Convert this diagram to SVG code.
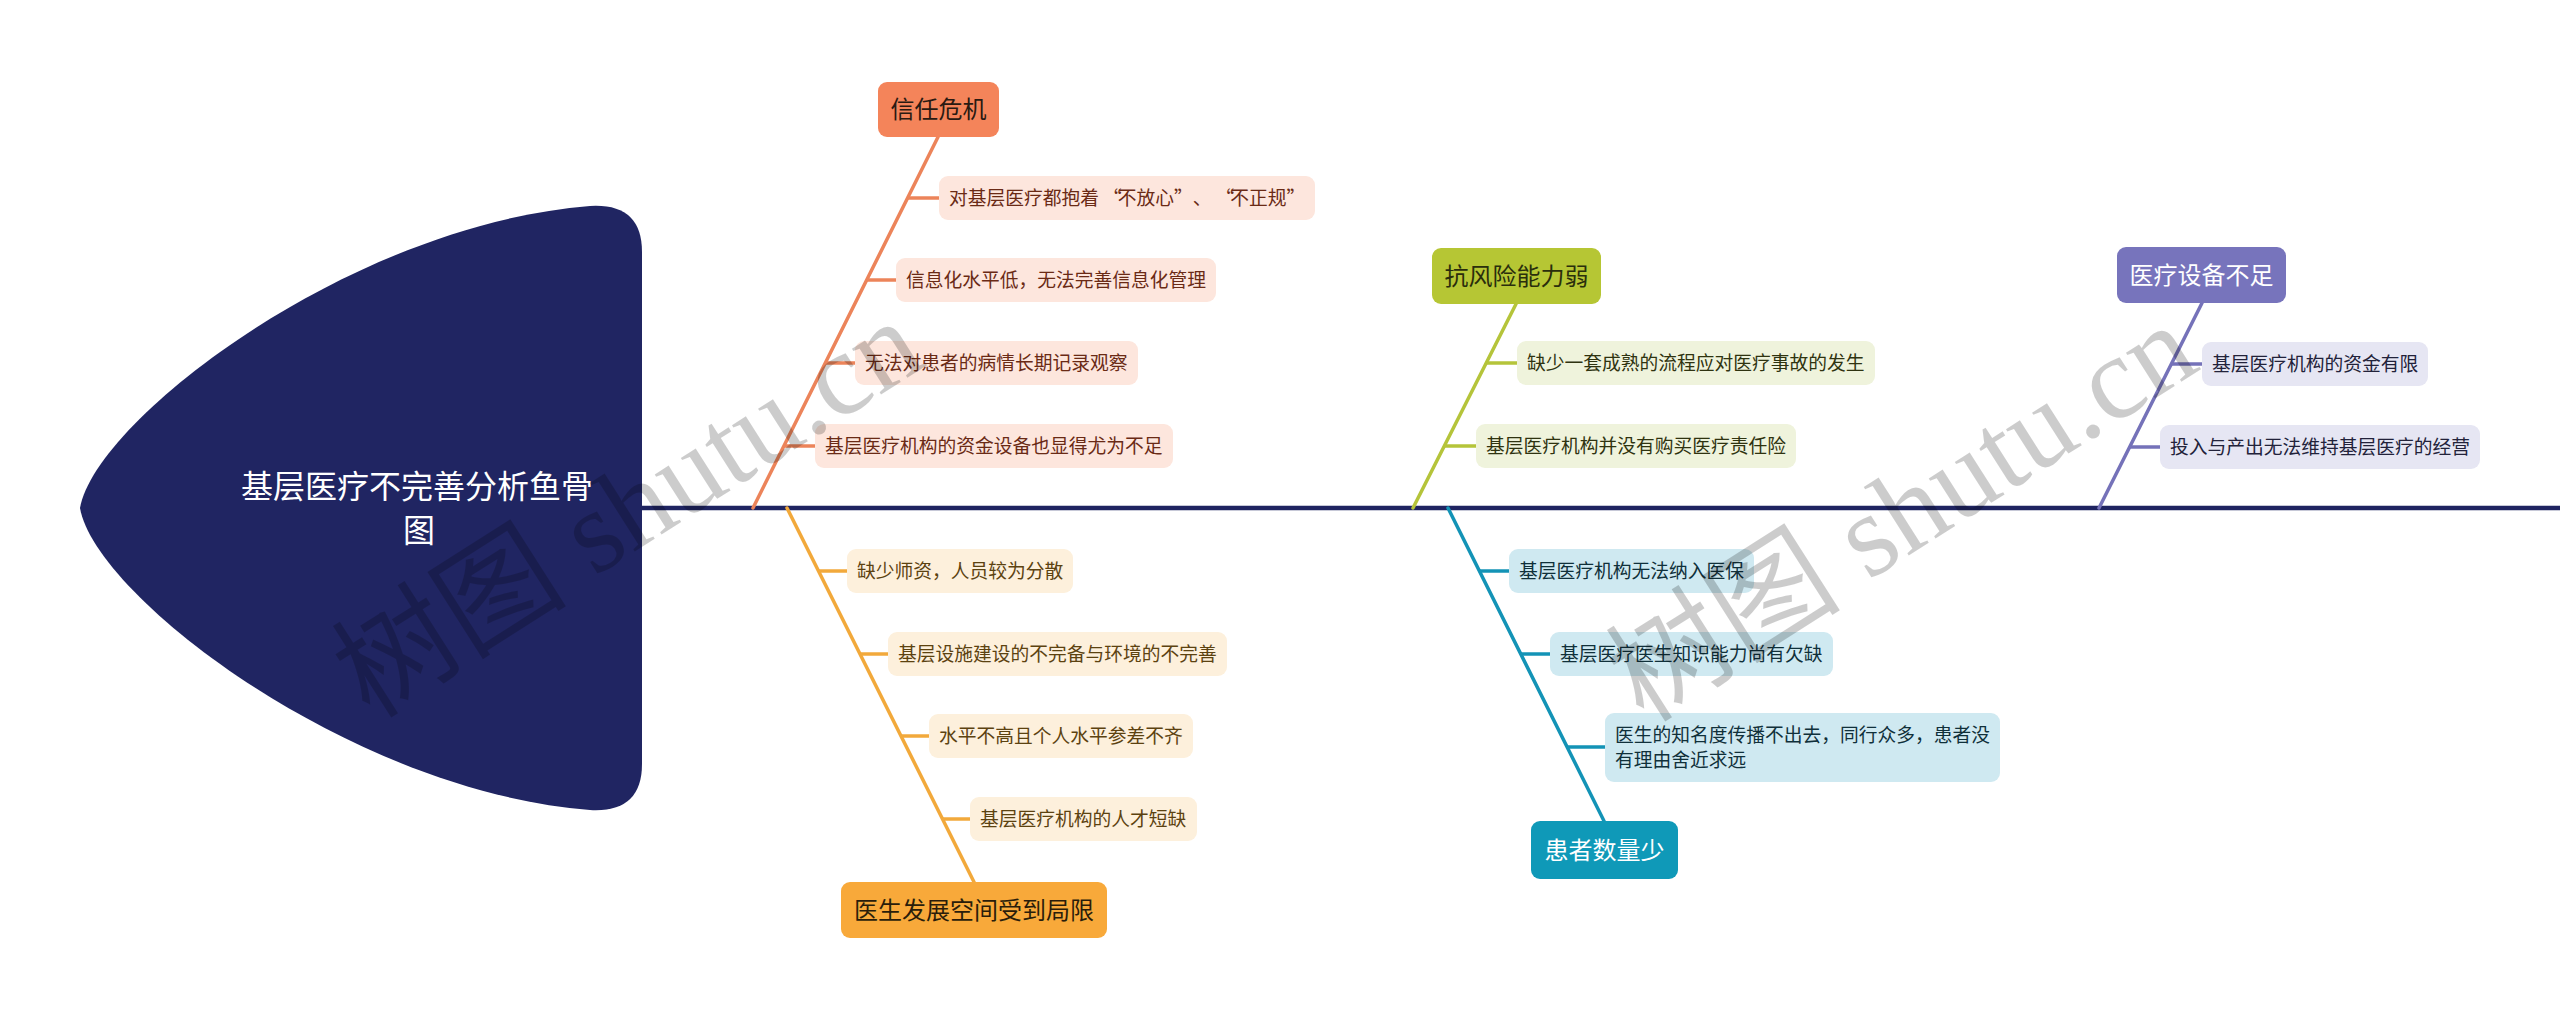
<svg xmlns="http://www.w3.org/2000/svg" width="2560" height="1019" viewBox="0 0 2560 1019">
<style>
text{font-family:"Noto Sans CJK SC","Noto Sans",sans-serif}
.t{font-size:18.75px}
.m{font-size:24px;text-anchor:middle}
.bone{fill:none;stroke-width:3.5;stroke-linecap:round}
.tick{fill:none;stroke-width:3.5}
.o{stroke:#ec845a}.y{stroke:#f2a93b}.g{stroke:#b5c43a}.c{stroke:#1393b6}.p{stroke:#7572b9}
.wm{font-family:"Liberation Serif","Noto Sans CJK SC",serif;font-size:118px;fill:#000000;fill-opacity:0.2}
</style>
<rect width="2560" height="1019" fill="#ffffff"/>
<g id="connectors">
<line x1="642" y1="508" x2="2560" y2="508" stroke="#1f2461" stroke-width="4.5"/>
<line class="bone o" x1="753" y1="508" x2="938" y2="137"/>
<line class="tick o" x1="907.6" y1="198" x2="939" y2="198"/>
<line class="tick o" x1="866.7" y1="280" x2="896" y2="280"/>
<line class="tick o" x1="825.3" y1="363" x2="855" y2="363"/>
<line class="tick o" x1="783.9" y1="446" x2="815" y2="446"/>
<line class="bone y" x1="787" y1="508" x2="974" y2="882"/>
<line class="tick y" x1="818.5" y1="571" x2="847" y2="571"/>
<line class="tick y" x1="860" y1="654" x2="888" y2="654"/>
<line class="tick y" x1="901" y1="736" x2="929" y2="736"/>
<line class="tick y" x1="942.5" y1="819" x2="970" y2="819"/>
<line class="bone g" x1="1413" y1="508" x2="1516" y2="304"/>
<line class="tick g" x1="1486.2" y1="363" x2="1517" y2="363"/>
<line class="tick g" x1="1444.3" y1="446" x2="1476" y2="446"/>
<line class="bone c" x1="1448" y1="508" x2="1604" y2="821"/>
<line class="tick c" x1="1479.4" y1="571" x2="1509" y2="571"/>
<line class="tick c" x1="1520.7" y1="654" x2="1550" y2="654"/>
<line class="tick c" x1="1567" y1="747" x2="1605" y2="747"/>
<line class="bone p" x1="2099" y1="508" x2="2202" y2="303"/>
<line class="tick p" x1="2171.3" y1="364" x2="2202" y2="364"/>
<line class="tick p" x1="2129.6" y1="447" x2="2160" y2="447"/>
</g>
<g id="head">
<path d="M 80 508 C 95 420, 350 225, 590 206 Q 642 203 642 252 L 642 764 Q 642 813 590 810 C 350 791, 95 596, 80 508 Z" fill="#202562"/>
<text x="417" y="498" font-size="32" fill="#ffffff" text-anchor="middle">基层医疗不完善分析鱼骨</text>
<text x="419" y="542" font-size="32" fill="#ffffff" text-anchor="middle">图</text>
</g>
<g id="b1">
<rect x="878" y="82" width="121" height="55" rx="9" fill="#f4845a"/>
<text class="m" x="938.5" y="118" fill="#2a1a12">信任危机</text>
</g>
<g id="b1c1"><rect x="939" y="176" width="376" height="44" rx="9" fill="#fde6dd"/><text class="t" x="949" y="205" fill="#6a2a15">对基层医疗都抱着<tspan x="1103">“</tspan><tspan x="1117.75">不放心</tspan><tspan x="1174">”</tspan><tspan x="1192.75">、</tspan><tspan x="1215.5">“</tspan><tspan x="1230.25">不正规</tspan><tspan x="1286.5">”</tspan></text></g>
<g id="b1c2"><rect x="896" y="258" width="320" height="44" rx="9" fill="#fde6dd"/><text class="t" x="906" y="287" fill="#6a2a15">信息化水平低，无法完善信息化管理</text></g>
<g id="b1c3"><rect x="855" y="341" width="283" height="44" rx="9" fill="#fde6dd"/><text class="t" x="865" y="370" fill="#6a2a15">无法对患者的病情长期记录观察</text></g>
<g id="b1c4"><rect x="815" y="424" width="358" height="44" rx="9" fill="#fde6dd"/><text class="t" x="825" y="453" fill="#6a2a15">基层医疗机构的资金设备也显得尤为不足</text></g>
<g id="b2">
<rect x="841" y="882" width="266" height="56" rx="9" fill="#f8a93a"/>
<text class="m" x="974" y="919" fill="#2a1d0a">医生发展空间受到局限</text>
</g>
<g id="b2c1"><rect x="847" y="549" width="226" height="44" rx="9" fill="#fdf0dc"/><text class="t" x="857" y="578" fill="#5c4210">缺少师资，人员较为分散</text></g>
<g id="b2c2"><rect x="888" y="632" width="339" height="44" rx="9" fill="#fdf0dc"/><text class="t" x="898" y="661" fill="#5c4210">基层设施建设的不完备与环境的不完善</text></g>
<g id="b2c3"><rect x="929" y="714" width="264" height="44" rx="9" fill="#fdf0dc"/><text class="t" x="939" y="743" fill="#5c4210">水平不高且个人水平参差不齐</text></g>
<g id="b2c4"><rect x="970" y="797" width="227" height="44" rx="9" fill="#fdf0dc"/><text class="t" x="980" y="826" fill="#5c4210">基层医疗机构的人才短缺</text></g>
<g id="b3">
<rect x="1432" y="248" width="169" height="56" rx="9" fill="#b6c634"/>
<text class="m" x="1516.5" y="285" fill="#2a2e0c">抗风险能力弱</text>
</g>
<g id="b3c1"><rect x="1517" y="341" width="358" height="44" rx="9" fill="#eff3dc"/><text class="t" x="1527" y="370" fill="#2f3310">缺少一套成熟的流程应对医疗事故的发生</text></g>
<g id="b3c2"><rect x="1476" y="424" width="320" height="44" rx="9" fill="#eff3dc"/><text class="t" x="1486" y="453" fill="#2f3310">基层医疗机构并没有购买医疗责任险</text></g>
<g id="b4">
<rect x="1531" y="821" width="147" height="58" rx="9" fill="#0f99b8"/>
<text class="m" x="1604.5" y="859" fill="#ffffff">患者数量少</text>
</g>
<g id="b4c1"><rect x="1509" y="549" width="245" height="44" rx="9" fill="#cfe9f1"/><text class="t" x="1519" y="578" fill="#10303a">基层医疗机构无法纳入医保</text></g>
<g id="b4c2"><rect x="1550" y="632" width="283" height="44" rx="9" fill="#cfe9f1"/><text class="t" x="1560" y="661" fill="#10303a">基层医疗医生知识能力尚有欠缺</text></g>
<g id="b4c3"><rect x="1605" y="713" width="395" height="69" rx="9" fill="#cfe9f1"/><text class="t" x="1615" y="742" fill="#10303a">医生的知名度传播不出去，同行众多，患者没</text><text class="t" x="1615" y="767" fill="#10303a">有理由舍近求远</text></g>
<g id="b5">
<rect x="2117" y="247" width="169" height="56" rx="9" fill="#7774bc"/>
<text class="m" x="2201.5" y="284" fill="#ffffff">医疗设备不足</text>
</g>
<g id="b5c1"><rect x="2202" y="342" width="226" height="44" rx="9" fill="#e6e6f3"/><text class="t" x="2212" y="371" fill="#22223a">基层医疗机构的资金有限</text></g>
<g id="b5c2"><rect x="2160" y="425" width="320" height="44" rx="9" fill="#e6e6f3"/><text class="t" x="2170" y="454" fill="#22223a">投入与产出无法维持基层医疗的经营</text></g>
<g id="watermark">
<text class="wm" transform="translate(370,720) rotate(-32.5)">树图 shutu.cn</text>
<text class="wm" transform="translate(1644,724) rotate(-32.5)">树图 shutu.cn</text>
</g>
</svg>
